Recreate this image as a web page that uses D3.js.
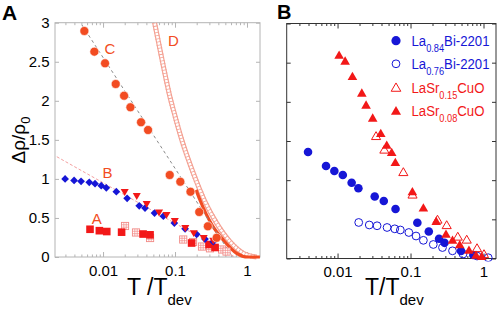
<!DOCTYPE html>
<html><head><meta charset="utf-8">
<script src="https://cdn.jsdelivr.net/npm/d3@7"></script>
<style>body{margin:0;background:#fff}svg{display:block;font-family:"Liberation Sans",Arial,sans-serif}</style>
</head><body><svg id="c" width="498" height="311"></svg>
<script>
// ---------- data ----------
const xMajorTicks = [0.01, 0.1, 1];
const xTickLabels = ["0.01", "0.1", "1"];
const yTicks = [0, 0.5, 1, 1.5, 2, 2.5, 3];
const yTickLabels = ["0", "0.5", "1", "1.5", "2", "2.5", "3"];

// Panel A
const cT = [0.0055, 0.00757, 0.01066, 0.0150, 0.0196, 0.0240, 0.0337, 0.0422, 0.0844, 0.1185, 0.164, 0.217, 0.286, 0.379];
const cV = [2.894, 2.629, 2.480, 2.215, 2.065, 1.917, 1.725, 1.626, 1.050, 0.964, 0.836, 0.576, 0.393, 0.246];
const bDiaT = [0.00297, 0.00396, 0.00495, 0.00643, 0.00774, 0.00944, 0.0111, 0.0153, 0.0216, 0.0318, 0.0383, 0.0519, 0.0688, 0.0978, 0.138, 0.200, 0.261, 0.340];
const bDiaV = [0.999, 0.980, 0.969, 0.956, 0.939, 0.913, 0.886, 0.836, 0.752, 0.656, 0.627, 0.563, 0.522, 0.435, 0.361, 0.291, 0.230, 0.196];
const bTriT = [0.0200, 0.0294, 0.0404, 0.060, 0.0762, 0.0994, 0.139, 0.182, 0.250, 0.340];
const bTriV = [0.841, 0.790, 0.688, 0.579, 0.548, 0.470, 0.380, 0.314, 0.252, 0.218];
const aFillT = [0.00659, 0.00889, 0.01126, 0.0181, 0.0360, 0.045, 0.170, 0.297, 0.360];
const aFillV = [0.355, 0.337, 0.326, 0.318, 0.294, 0.284, 0.179, 0.160, 0.122];
const aOpenT = [0.0202, 0.0287, 0.045, 0.130, 0.178, 0.237, 0.306, 0.450, 0.52];
const aOpenV = [0.397, 0.314, 0.243, 0.224, 0.192, 0.134, 0.111, 0.096, 0.07];
const dT = [0.052, 0.062, 0.069, 0.085, 0.095, 0.124, 0.18, 0.26, 0.38, 0.58, 0.89, 1.36];
const dV = [3.0, 2.65, 2.44, 2.05, 1.88, 1.50, 1.07, 0.71, 0.43, 0.196, 0.047, 0.0];
const oT = [0.196, 0.222, 0.327, 0.469, 0.719, 1.03, 1.51];
const oV = [0.86, 0.73, 0.41, 0.218, 0.047, 0.0, 0.0];
const fitCT = [0.0051, 0.63];
const fitCV = [2.97, 0.0];
const fitBT = [0.00228, 0.68];
const fitBV = [1.284, 0.0];
const labelsA = ["A", "B", "C", "D"];
const labelsAT = [0.00817, 0.0115, 0.0125, 0.095];
const labelsAV = [0.426, 1.01, 2.60, 2.70];

// Panel B
const s084T = [0.00394, 0.00695, 0.00904, 0.0118, 0.0156, 0.0193, 0.0323, 0.0430, 0.0623, 0.124, 0.178, 0.246, 0.292, 0.492, 0.725];
const s084V = [1.360, 1.181, 1.117, 1.066, 0.967, 0.897, 0.792, 0.734, 0.632, 0.457, 0.345, 0.252, 0.200, 0.096, 0.045];
const s076T = [0.0195, 0.0272, 0.0348, 0.0477, 0.0608, 0.0725, 0.0948, 0.119, 0.150, 0.205, 0.274, 0.376, 0.524, 0.815, 1.16];
const s076V = [0.460, 0.428, 0.418, 0.396, 0.379, 0.364, 0.332, 0.287, 0.232, 0.179, 0.140, 0.098, 0.057, 0.032, 0.010];
const s015T = [0.0337, 0.0438, 0.0797, 0.1065, 0.234, 0.313, 0.444, 0.589, 0.815, 1.016];
const s015V = [1.552, 1.379, 1.092, 0.805, 0.485, 0.415, 0.268, 0.230, 0.121, 0.045];
const s008T = [0.0105, 0.0127, 0.0160, 0.0215, 0.0246, 0.0303, 0.0391, 0.0472, 0.0552, 0.0619, 0.106, 0.150, 0.225, 0.306, 0.376, 0.472, 0.632, 0.789, 0.945];
const s008V = [2.586, 2.510, 2.314, 2.101, 1.948, 1.782, 1.586, 1.437, 1.344, 1.216, 0.843, 0.635, 0.464, 0.300, 0.224, 0.166, 0.096, 0.032, 0.015];
const legendNames = ["La", "La", "LaSr", "LaSr"];
const legendSubs = ["0.84", "0.76", "0.15", "0.08"];
const legendTails = ["Bi-2201", "Bi-2201", "CuO", "CuO"];

// ---------- drawing ----------
const svg = d3.select("#c");
const FONT = "Liberation Sans, Arial, sans-serif";
const zip = (a, b) => a.map((t, i) => ({t, v: b[i]}));
const BLUE = "#1616d6", RED = "#f21818", ORANGE = "#f24c22", PINK = "#f28a86";

function panel(L, R, T, B, dom, frameCol, showYLabels, id) {
  const x = d3.scaleLog().domain(dom).range([L, R]);
  const y = d3.scaleLinear().domain([0, 3]).range([B, T]);
  const g = svg.append("g");
  const minor = x.ticks().filter(d => !xMajorTicks.includes(d));
  const style = (sel) => { sel.attr("font-family", FONT); sel.select(".domain").remove(); sel.selectAll("line").attr("stroke", frameCol); sel.selectAll("text").attr("font-size", 15).attr("fill", "#000"); };
  g.append("rect").attr("x", L).attr("y", T).attr("width", R - L).attr("height", B - T).attr("fill", "none").attr("stroke", frameCol).attr("stroke-width", 1);
  g.append("g").attr("transform", `translate(0,${B})`).call(d3.axisBottom(x).tickValues(xMajorTicks).tickSize(-5).tickPadding(8).tickFormat((d, i) => xTickLabels[i])).call(style);
  g.append("g").attr("transform", `translate(0,${B})`).call(d3.axisBottom(x).tickValues(minor).tickSize(-2.5).tickFormat("")).call(style);
  g.append("g").attr("transform", `translate(0,${T})`).call(d3.axisTop(x).tickValues(xMajorTicks).tickSize(-5).tickFormat("")).call(style);
  g.append("g").attr("transform", `translate(0,${T})`).call(d3.axisTop(x).tickValues(minor).tickSize(-2.5).tickFormat("")).call(style);
  g.append("g").attr("transform", `translate(${L},0)`).call(d3.axisLeft(y).tickValues(yTicks).tickSize(-4).tickPadding(5.5).tickFormat((d, i) => showYLabels ? yTickLabels[i] : "")).call(style);
  g.append("g").attr("transform", `translate(${R},0)`).call(d3.axisRight(y).tickValues(yTicks).tickSize(-4).tickFormat("")).call(style);
  svg.append("clipPath").attr("id", id).append("rect").attr("x", L).attr("y", T).attr("width", R - L).attr("height", B - T + 3);
  const plot = svg.append("g").attr("clip-path", `url(#${id})`);
  return {x, y, plot};
}

// ---- Panel A ----
const A = panel(55, 260, 22.7, 257, [0.00215, 1.516], "#b4b4b4", true, "clipA");
const lineA = d3.line().x(d => A.x(d.t)).y(d => A.y(d.v));
const lineAc = d3.line().x(d => A.x(d.t)).y(d => A.y(d.v)).curve(d3.curveMonotoneX);
A.plot.append("path").datum(zip(dT, dV)).attr("d", lineAc).attr("fill", "none").attr("stroke", "#f4a294").attr("stroke-width", 5);
A.plot.append("path").datum(zip(dT, dV)).attr("d", lineAc).attr("fill", "none").attr("stroke", "#fff").attr("stroke-width", 2.6);
A.plot.append("path").datum(zip(dT, dV)).attr("d", lineAc).attr("fill", "none").attr("stroke", "#f4a294").attr("stroke-width", 5).attr("stroke-dasharray", "0.8,2.4");
A.plot.append("path").datum(zip(oT, oV)).attr("d", lineAc).attr("fill", "none").attr("stroke", ORANGE).attr("stroke-width", 3.2);
A.plot.append("path").datum(zip(fitCT, fitCV)).attr("d", lineA).attr("fill", "none").attr("stroke", "#8a8a8a").attr("stroke-width", 1).attr("stroke-dasharray", "3,3");
A.plot.append("path").datum(zip(fitBT, fitBV)).attr("d", lineA).attr("fill", "none").attr("stroke", "#f4a0a0").attr("stroke-width", 1).attr("stroke-dasharray", "3,2");
const gs = A.plot.append("g").selectAll("g").data(zip(aOpenT, aOpenV)).join("g").attr("transform", d => `translate(${A.x(d.t)},${A.y(d.v)})`);
gs.append("rect").attr("x", -3.6).attr("y", -3.6).attr("width", 7.2).attr("height", 7.2).attr("fill", "#fff").attr("stroke", PINK).attr("stroke-width", 0.9);
gs.append("path").attr("d", "M-1.2,-3.6V3.6M1.2,-3.6V3.6M-3.6,-1.2H3.6M-3.6,1.2H3.6").attr("stroke", PINK).attr("stroke-width", 0.7);
A.plot.append("g").selectAll("rect").data(zip(aFillT, aFillV)).join("rect").attr("x", d => A.x(d.t) - 3.8).attr("y", d => A.y(d.v) - 3.8).attr("width", 7.6).attr("height", 7.6).attr("fill", RED);
A.plot.append("g").selectAll("path").data(zip(bDiaT, bDiaV)).join("path").attr("d", d3.symbol(d3.symbolSquare, 30)).attr("transform", d => `translate(${A.x(d.t)},${A.y(d.v)}) rotate(45)`).attr("fill", BLUE);
A.plot.append("g").selectAll("path").data(zip(bTriT, bTriV)).join("path").attr("d", d3.symbol(d3.symbolTriangle, 28)).attr("transform", d => `translate(${A.x(d.t)},${A.y(d.v)}) rotate(180)`).attr("fill", RED);
A.plot.append("g").selectAll("circle").data(zip(cT, cV)).join("circle").attr("cx", d => A.x(d.t)).attr("cy", d => A.y(d.v)).attr("r", 4.5).attr("fill", ORANGE).attr("stroke", "#fff").attr("stroke-width", 0.6);
svg.append("g").attr("font-family", FONT).selectAll("text").data(labelsA).join("text").attr("x", (d, i) => A.x(labelsAT[i])).attr("y", (d, i) => A.y(labelsAV[i])).attr("text-anchor", "middle").attr("font-size", 15).attr("fill", ORANGE).text(d => d);

// ---- Panel B ----
const Bp = panel(286.7, 496, 23.5, 258.5, [0.00201, 1.483], "#333", false, "clipB");
Bp.plot.append("g").selectAll("circle").data(zip(s076T, s076V)).join("circle").attr("cx", d => Bp.x(d.t)).attr("cy", d => Bp.y(d.v)).attr("r", 3.9).attr("fill", "none").attr("stroke", BLUE).attr("stroke-width", 1);
Bp.plot.append("g").selectAll("circle").data(zip(s084T, s084V)).join("circle").attr("cx", d => Bp.x(d.t)).attr("cy", d => Bp.y(d.v)).attr("r", 4.3).attr("fill", BLUE);
Bp.plot.append("g").selectAll("path").data(zip(s015T, s015V)).join("path").attr("d", d3.symbol(d3.symbolTriangle, 36)).attr("transform", d => `translate(${Bp.x(d.t)},${Bp.y(d.v)})`).attr("fill", "none").attr("stroke", RED).attr("stroke-width", 1);
Bp.plot.append("g").selectAll("path").data(zip(s008T, s008V)).join("path").attr("d", d3.symbol(d3.symbolTriangle, 40)).attr("transform", d => `translate(${Bp.x(d.t)},${Bp.y(d.v)})`).attr("fill", RED);

// legend
const legY = [40.7, 63.8, 87.5, 110.8];
const legW = [78, 78, 73, 73];
const legCol = [BLUE, BLUE, RED, RED];
const lg = svg.append("g").attr("font-family", FONT);
legY.forEach((yy, i) => {
  if (i === 0) lg.append("circle").attr("cx", 396).attr("cy", yy).attr("r", 4.6).attr("fill", BLUE);
  if (i === 1) lg.append("circle").attr("cx", 396).attr("cy", yy).attr("r", 3.9).attr("fill", "none").attr("stroke", BLUE);
  if (i === 2) lg.append("path").attr("d", d3.symbol(d3.symbolTriangle, 40)).attr("transform", `translate(396,${yy + 1})`).attr("fill", "none").attr("stroke", RED);
  if (i === 3) lg.append("path").attr("d", d3.symbol(d3.symbolTriangle, 44)).attr("transform", `translate(396,${yy + 1})`).attr("fill", RED);
  const tg = lg.append("g").attr("transform", `translate(411.5,${yy + 5})`);
  const t = tg.append("text").attr("x", 0).attr("y", 0).attr("font-size", 15).attr("fill", legCol[i]);
  t.append("tspan").text(legendNames[i]);
  t.append("tspan").attr("dy", 6).attr("font-size", 10.5).text(legendSubs[i]);
  t.append("tspan").attr("dy", -6).text(legendTails[i]);
  const w = t.node().getBBox().width;
  if (w > legW[i]) tg.attr("transform", `translate(411.5,${yy + 5}) scale(${legW[i] / w},1)`);
});

// axis titles
const tt = svg.append("g").attr("font-family", FONT);
const ty = tt.append("text").attr("transform", "translate(25,140) rotate(-90)").attr("text-anchor", "middle").attr("font-size", 19).attr("fill", "#000");
ty.append("tspan").text("Δρ/ρ");
ty.append("tspan").attr("dy", 5).attr("font-size", 13).text("0");
const tA = tt.append("text").attr("x", 127).attr("y", 295).attr("font-size", 23).attr("fill", "#000");
tA.append("tspan").text("T /T");
tA.append("tspan").attr("dy", 10).attr("font-size", 15).text("dev");
const tB = tt.append("text").attr("x", 365).attr("y", 295).attr("font-size", 23).attr("fill", "#000");
tB.append("tspan").text("T/T");
tB.append("tspan").attr("dy", 10).attr("font-size", 15).text("dev");
tt.append("text").attr("x", 2).attr("y", 20).attr("font-size", 21).attr("font-weight", "bold").text("A");
tt.append("text").attr("x", 277).attr("y", 19).attr("font-size", 20).attr("font-weight", "bold").text("B");
</script></body></html>
